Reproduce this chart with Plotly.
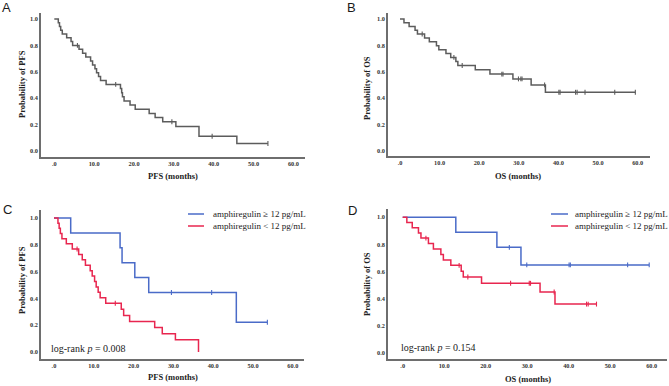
import plotly.graph_objects as go

# ---------------- data ----------------
# PFS, amphiregulin >= 12 pg/mL  (event=1, censored=0)
pfs_high_time = [4.2, 16.6, 17.1, 20.3, 23.8, 29.5, 39.6, 45.8, 53.6]
pfs_high_event = [1, 1, 1, 1, 1, 0, 0, 1, 0]
# PFS, amphiregulin < 12 pg/mL
pfs_low_time = [1.0, 1.3, 1.6, 2.0, 3.1, 4.6, 5.8, 6.2, 7.1, 7.9, 9.1, 9.6, 10.2,
                10.6, 11.1, 11.6, 13.0, 15.4, 16.9, 17.5, 19.0, 25.3, 27.2, 30.5,
                36.3, 36.3]
pfs_low_event = [1, 1, 1, 1, 1, 1, 0, 1, 1, 1, 1, 1, 1,
                 1, 1, 1, 1, 0, 1, 1, 1, 1, 1, 1,
                 1, 1]
# OS, amphiregulin >= 12 pg/mL
os_high_time = [12.8, 22.7, 25.7, 28.5, 29.9, 40.1, 40.4, 54.2, 59.4]
os_high_event = [1, 1, 0, 1, 0, 0, 0, 0, 0]
# OS, amphiregulin < 12 pg/mL
os_low_time = [1.0, 2.3, 3.8, 4.4, 5.6, 6.2, 7.4, 9.2, 9.8, 11.6, 13.6, 14.1, 14.6,
               15.7, 19.0, 26.0, 30.5, 30.8, 33.1, 36.5, 36.5, 36.7, 44.3, 44.7,
               46.7, 46.7]
os_low_event = [1, 1, 1, 1, 0, 1, 1, 1, 1, 1, 0, 1, 1,
                0, 1, 0, 0, 0, 1, 0, 0, 1, 0, 0,
                0, 0]

x_tick_vals = [0, 10, 20, 30, 40, 50, 60]
x_tick_text = [".0", "10.0", "20.0", "30.0", "40.0", "50.0", "60.0"]
y_tick_vals = [0, 0.2, 0.4, 0.6, 0.8, 1.0]
y_tick_text = ["0.0", "0.2", "0.4", "0.6", "0.8", "1.0"]

legend_labels = ["amphiregulin \u2265 12 pg/mL", "amphiregulin < 12 pg/mL"]
pvalues = ["0.008", "0.154"]
panel_letters = ["A", "B", "C", "D"]

# ---------------- styling ----------------
W, H = 669, 386
GRAY = "#5c5c5c"
BLUE = "#4a6bc8"
RED = "#e8264f"
SERIF = "Liberation Serif"


def km(times, events):
    """Kaplan-Meier step curve + censor marks."""
    pairs = sorted(zip(times, events))
    uniq = sorted(set(t for t, _ in pairs))
    s = 1.0
    xs, ys = [0.0], [1.0]
    cx, cy = [], []
    for t in uniq:
        n = sum(1 for tt, _ in pairs if tt >= t)
        d = sum(1 for tt, e in pairs if tt == t and e == 1)
        c = sum(1 for tt, e in pairs if tt == t and e == 0)
        if d > 0:
            s *= (1 - d / n)
            xs.append(t)
            ys.append(s)
        if c > 0:
            cx.append(t)
            cy.append(s)
    last = max(times)
    if xs[-1] != last:
        xs.append(last)
        ys.append(s)
    return xs, ys, cx, cy


def px(x):
    return x / W


def py(y):
    return 1 - y / H


fig = go.Figure()


def add_curve(times, events, color, xa, ya):
    xs, ys, cx, cy = km(times, events)
    fig.add_trace(go.Scatter(x=xs, y=ys, mode="lines", line=dict(color=color, width=1.5, shape="hv"),
                             xaxis=xa, yaxis=ya, showlegend=False, hoverinfo="skip"))
    fig.add_trace(go.Scatter(x=cx, y=cy, mode="markers",
                             marker=dict(symbol="line-ns-open", size=3.5, color=color,
                                         line=dict(color=color, width=1.1)),
                             xaxis=xa, yaxis=ya, showlegend=False, hoverinfo="skip"))


# A: overall PFS, B: overall OS, C: PFS by group, D: OS by group
add_curve(pfs_high_time + pfs_low_time, pfs_high_event + pfs_low_event, GRAY, "x", "y")
add_curve(os_high_time + os_low_time, os_high_event + os_low_event, GRAY, "x2", "y2")
add_curve(pfs_high_time, pfs_high_event, BLUE, "x3", "y3")
add_curve(pfs_low_time, pfs_low_event, RED, "x3", "y3")
add_curve(os_high_time, os_high_event, BLUE, "x4", "y4")
add_curve(os_low_time, os_low_event, RED, "x4", "y4")

# axis geometry (pixels): left, right, bottom, top, x-range, y-range
geo = {
    "": dict(l=41, r=305, b=157, t=13, xr=[-3.34, 62.9], yr=[-0.048, 1.046]),
    "2": dict(l=388, r=650, b=156, t=13, xr=[-3.03, 63.1], yr=[-0.038, 1.045]),
    "3": dict(l=41, r=304, b=359, t=210, xr=[-3.26, 62.8], yr=[-0.052, 1.060]),
    "4": dict(l=388, r=667, b=359, t=209, xr=[-3.54, 63.69], yr=[-0.047, 1.061]),
}
tickfont = dict(family=SERIF, size=6.3, color="#333333", weight="bold")
for k, g in geo.items():
    fig.update_layout(**{
        "xaxis" + k: dict(domain=[px(g["l"]), px(g["r"])], range=g["xr"], anchor="y" + k,
                          showline=True, linecolor="#6e6e6e", linewidth=1.5, showgrid=False,
                          zeroline=False, ticks="", tickvals=x_tick_vals, ticktext=x_tick_text,
                          tickfont=tickfont, fixedrange=True),
        "yaxis" + k: dict(domain=[py(g["b"]), py(g["t"])], range=g["yr"], anchor="x" + k,
                          showline=True, linecolor="#6e6e6e", linewidth=1.5, showgrid=False,
                          zeroline=False, ticks="", tickvals=y_tick_vals, ticktext=y_tick_text,
                          tickfont=tickfont, fixedrange=True),
    })

ann = []


def text(x, y, s, size, family=SERIF, weight="normal", angle=0, xanchor="center", color="#222222"):
    ann.append(dict(x=px(x), y=py(y), xref="paper", yref="paper", text=s, showarrow=False,
                    xanchor=xanchor, yanchor="middle", textangle=angle,
                    font=dict(family=family, size=size, color=color, weight=weight)))


# axis titles
text(173, 176, "PFS (months)", 8.5, weight="bold")
text(22, 84, "Probability of PFS", 8.5, weight="bold", angle=-90)
text(518, 176, "OS (months)", 8.5, weight="bold")
text(367, 88, "Probability of OS", 8.5, weight="bold", angle=-90)
text(173, 377, "PFS (months)", 8.5, weight="bold")
text(22, 280, "Probability of PFS", 8.5, weight="bold", angle=-90)
text(528, 379, "OS (months)", 8.5, weight="bold")
text(367, 284, "Probability of OS", 8.5, weight="bold", angle=-90)

# panel letters
for (lx, ly), letter in zip([(6, 8), (351, 8), (7, 209), (352, 210)], panel_letters):
    text(lx, ly, letter, 13, family="Liberation Sans", color="#1a1a1a")

# log-rank p-values
text(49, 348, "log-rank <i>p</i> = " + pvalues[0], 10, xanchor="left")
text(399, 347, "log-rank <i>p</i> = " + pvalues[1], 10, xanchor="left")

# legends (C and D)
shapes = []
for (x0, x1, tx) in [(188, 204, 211), (551, 568, 573)]:
    for yy, col, lab in [(214, BLUE, legend_labels[0]), (226, RED, legend_labels[1])]:
        shapes.append(dict(type="line", xref="paper", yref="paper", x0=px(x0), x1=px(x1),
                           y0=py(yy), y1=py(yy), line=dict(color=col, width=1.5)))
        text(tx, yy, lab, 9, xanchor="left")

fig.update_layout(width=W, height=H, margin=dict(l=0, r=0, t=0, b=0), autosize=False,
                  paper_bgcolor="white", plot_bgcolor="white", showlegend=False,
                  annotations=ann, shapes=shapes)

fig.write_html("out.html", config={"displayModeBar": False},
               post_script="document.body.style.margin='0';")
